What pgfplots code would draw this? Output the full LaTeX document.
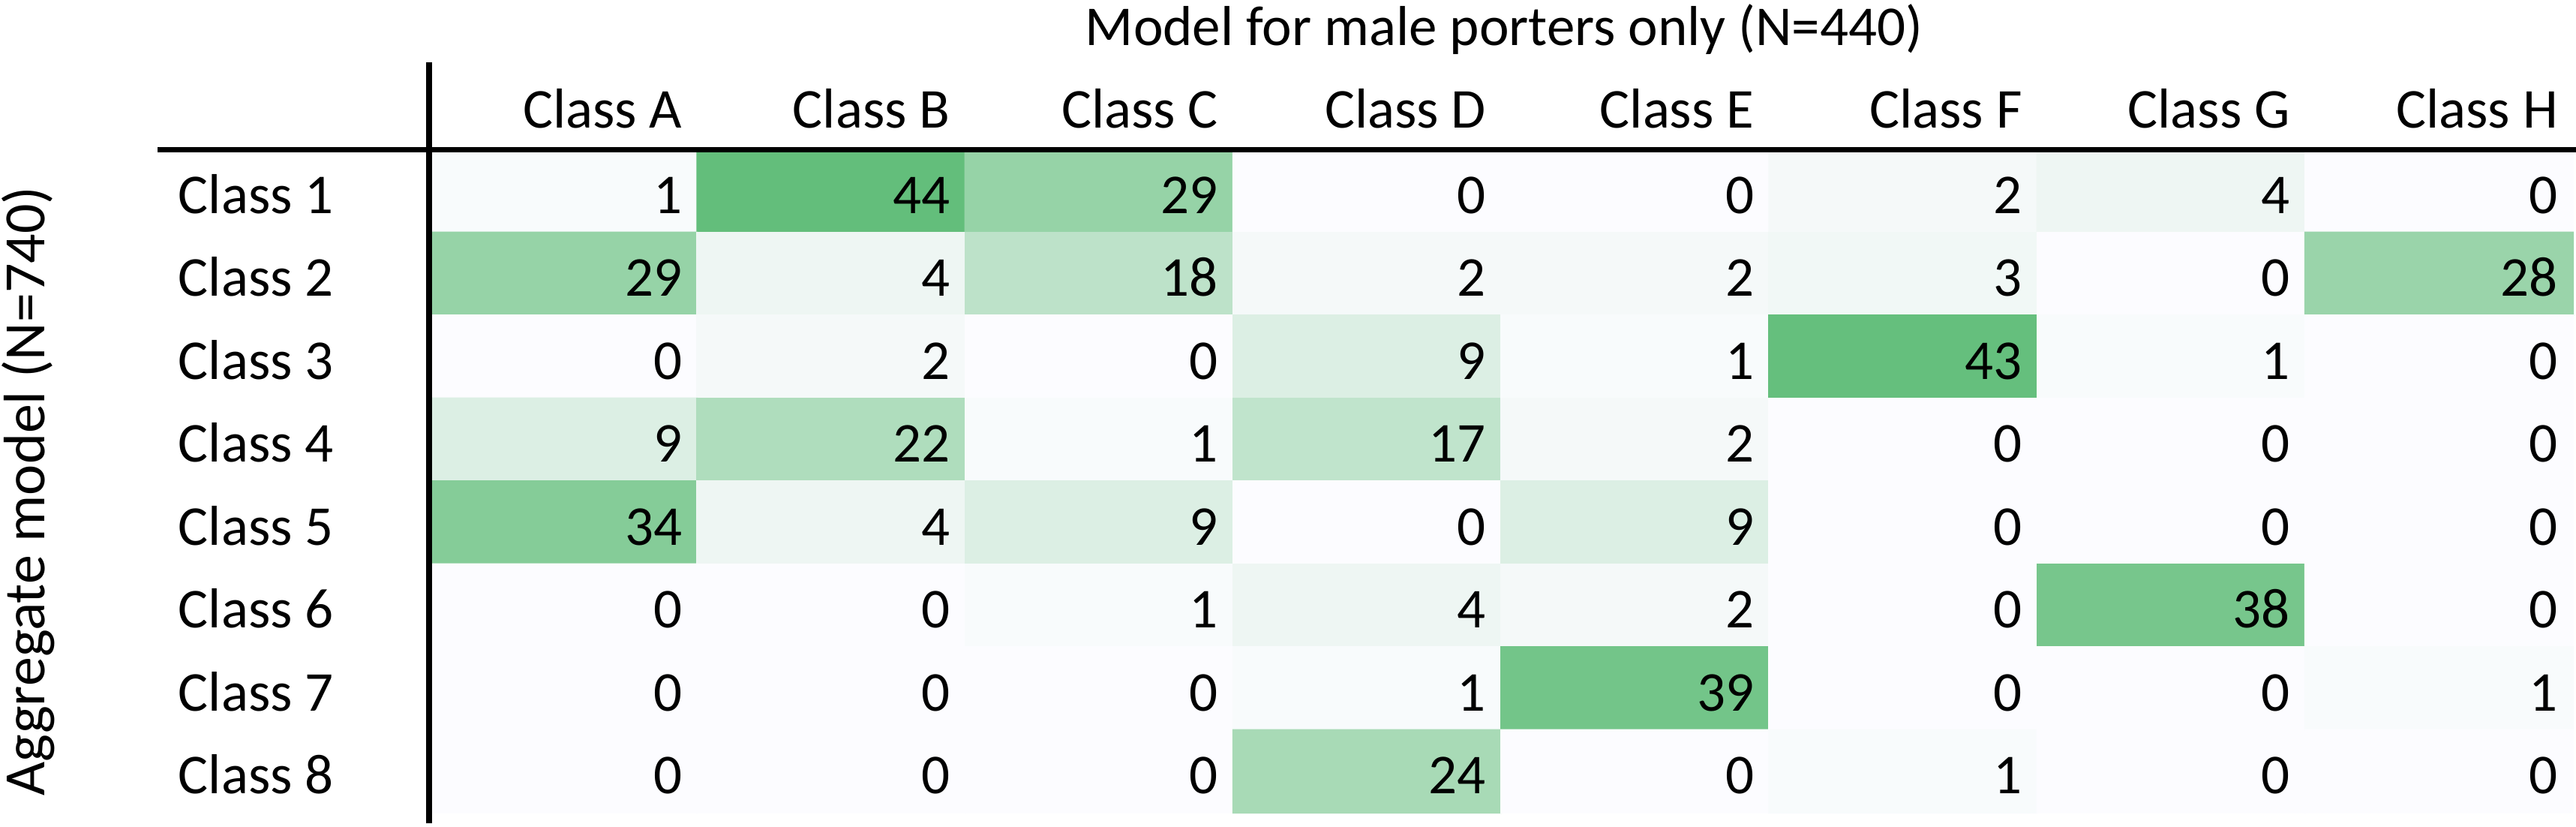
\documentclass[border=0pt]{standalone}
\usepackage{pgfplots}
\pgfplotsset{compat=1.18}
\usepackage{pgfplotstable}
\usepackage{fontspec}
\setmainfont{Carlito}
\pgfplotstableread{
x y v
0 1 1
1 1 44
2 1 29
3 1 0
4 1 0
5 1 2
6 1 4
7 1 0
0 2 29
1 2 4
2 2 18
3 2 2
4 2 2
5 2 3
6 2 0
7 2 28
0 3 0
1 3 2
2 3 0
3 3 9
4 3 1
5 3 43
6 3 1
7 3 0
0 4 9
1 4 22
2 4 1
3 4 17
4 4 2
5 4 0
6 4 0
7 4 0
0 5 34
1 5 4
2 5 9
3 5 0
4 5 9
5 5 0
6 5 0
7 5 0
0 6 0
1 6 0
2 6 1
3 6 4
4 6 2
5 6 0
6 6 38
7 6 0
0 7 0
1 7 0
2 7 0
3 7 1
4 7 39
5 7 0
6 7 0
7 7 1
0 8 0
1 8 0
2 8 0
3 8 24
4 8 0
5 8 1
6 8 0
7 8 0
}\datatab
\begin{document}
\fontsize{15}{18}\selectfont
\begin{tikzpicture}
\begin{axis}[
  at={(0,0)}, anchor=south west,
  scale only axis, width=571.6pt, height=176.8pt,
  xmin=-0.5, xmax=7.5, ymin=0.5, ymax=8.5, y dir=reverse,
  hide axis, clip=false,
  colormap={wg}{rgb255(0)=(252,252,255) rgb255(1)=(99,190,123)},
  point meta min=0, point meta max=44,
  /pgf/number format/assume math mode=true,
]
\addplot[matrix plot*, mesh/cols=8, mesh/rows=8, point meta=explicit]
  table[x=x, y=y, meta=v] {\datatab};
\addplot[draw=none, mark=none, point meta=explicit,
  nodes near coords={\pgfmathprintnumber{\pgfplotspointmeta}},
  every node near coord/.style={anchor=base east, xshift=31.9pt, yshift=-6pt,
    inner sep=0pt, text=black, font=\fontsize{15}{18}\selectfont}]
  table[x=x, y=y, meta=v] {\datatab};
\pgfplotsinvokeforeach{1,...,8}{
  \node[anchor=base west, inner sep=0pt, xshift=-67pt, yshift=-6pt] at (axis cs:-0.5,#1) {Class #1};
}
\end{axis}
% column headers
\foreach \c [count=\i from 1] in {A,B,C,D,E,F,G,H}{
  \node[anchor=base east, inner sep=0pt] at ({\i*71.45pt-3.8pt},182.6pt) {Class \c};
}
\node[anchor=base, inner sep=0pt] at (286.6pt,204.6pt) {Model for male porters only (N=440)};
\node[anchor=base, inner sep=0pt, rotate=90] at (-102.4pt,85.7pt) {\fontsize{15.6}{18}\selectfont Aggregate model (N=740)};
\draw[line width=1.4pt] (-72.4pt,176.8pt) -- (572.4pt,176.8pt);
\draw[line width=1.5pt] (0pt,-2.8pt) -- (0pt,200pt);
\pgfresetboundingbox
\useasboundingbox (-114.4pt,-3.6pt) rectangle (572.4pt,216.6pt);
\end{tikzpicture}
\end{document}
